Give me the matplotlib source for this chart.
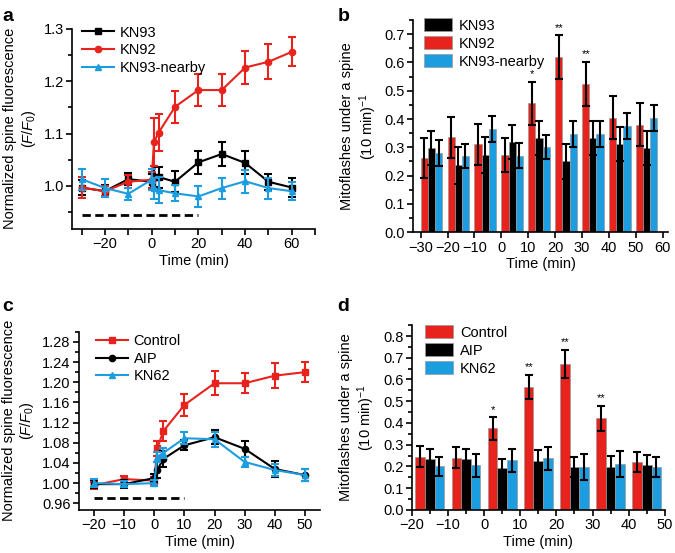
import numpy as np
import matplotlib
matplotlib.use("Agg")
import matplotlib.pyplot as plt
from matplotlib.ticker import MultipleLocator

FS = 10.5
plt.rcParams['font.family'] = ['Liberation Sans', 'DejaVu Sans']
plt.rcParams['font.size'] = FS
plt.rcParams['mathtext.fontset'] = 'custom'
plt.rcParams['mathtext.rm'] = 'Liberation Sans'
plt.rcParams['mathtext.it'] = 'Liberation Sans:italic'
plt.rcParams['axes.linewidth'] = 1.2
plt.rcParams['xtick.major.width'] = 1.2
plt.rcParams['ytick.major.width'] = 1.2
plt.rcParams['xtick.minor.width'] = 1.2
plt.rcParams['ytick.minor.width'] = 1.2
plt.rcParams['xtick.major.size'] = 4
plt.rcParams['ytick.major.size'] = 4
plt.rcParams['xtick.minor.size'] = 3
plt.rcParams['ytick.minor.size'] = 3

RED = '#e8231e'
BLUE = '#1c9de0'
BLACK = '#000000'

# panel a
t_a = [-30, -20, -10, 0, 1, 3, 10, 20, 30, 40, 50, 60]
kn93_a = [0.997, 0.99, 1.013, 1.008, 1.018, 1.017, 1.008, 1.045, 1.061, 1.044, 1.008, 0.997]
kn93_a_err = [0.015, 0.012, 0.012, 0.015, 0.02, 0.02, 0.02, 0.022, 0.023, 0.022, 0.015, 0.018]
kn92_a = [0.997, 0.99, 1.008, 1.012, 1.084, 1.102, 1.151, 1.183, 1.183, 1.226, 1.237, 1.256]
kn92_a_err = [0.02, 0.01, 0.012, 0.015, 0.045, 0.035, 0.03, 0.03, 0.03, 0.032, 0.033, 0.028]
near_a = [1.013, 0.996, 0.985, 1.012, 0.996, 0.992, 0.986, 0.98, 0.996, 1.009, 0.996, 0.99]
near_a_err = [0.02, 0.017, 0.012, 0.02, 0.02, 0.025, 0.015, 0.02, 0.02, 0.022, 0.02, 0.017]

# panel b
bins_b = [-30, -20, -10, 0, 10, 20, 30, 40, 50]
kn92_b = [0.262, 0.335, 0.31, 0.273, 0.455, 0.62, 0.524, 0.405, 0.38]
kn92_b_err = [0.07, 0.072, 0.072, 0.06, 0.077, 0.077, 0.078, 0.075, 0.077]
kn93_b = [0.298, 0.237, 0.273, 0.32, 0.333, 0.25, 0.333, 0.31, 0.297]
kn93_b_err = [0.06, 0.065, 0.063, 0.06, 0.06, 0.063, 0.06, 0.06, 0.06]
near_b = [0.28, 0.27, 0.365, 0.27, 0.3, 0.346, 0.346, 0.374, 0.402]
near_b_err = [0.045, 0.043, 0.046, 0.044, 0.043, 0.046, 0.046, 0.046, 0.046]
stars_b = ['', '', '', '', '*', '**', '**', '', '']

# panel c
t_c = [-20, -10, 0, 1, 3, 10, 20, 30, 40, 50]
control_c = [0.996, 1.008, 1.005, 1.069, 1.103, 1.155, 1.198, 1.198, 1.213, 1.22]
control_c_err = [0.007, 0.007, 0.007, 0.015, 0.02, 0.022, 0.024, 0.02, 0.025, 0.02]
aip_c = [0.998, 0.998, 1.01, 1.026, 1.048, 1.075, 1.091, 1.068, 1.028, 1.016]
aip_c_err = [0.008, 0.008, 0.008, 0.015, 0.016, 0.01, 0.014, 0.016, 0.016, 0.012]
kn62_c = [1.0, 0.998, 1.0, 1.052, 1.06, 1.089, 1.087, 1.042, 1.026, 1.016]
kn62_c_err = [0.008, 0.006, 0.006, 0.01, 0.01, 0.012, 0.015, 0.01, 0.012, 0.012]

# panel d
bins_d = [-20, -10, 0, 10, 20, 30, 40]
control_d = [0.245, 0.24, 0.375, 0.565, 0.672, 0.422, 0.218]
control_d_err = [0.05, 0.048, 0.052, 0.057, 0.065, 0.058, 0.046]
aip_d = [0.235, 0.233, 0.193, 0.225, 0.197, 0.197, 0.205]
aip_d_err = [0.045, 0.048, 0.042, 0.052, 0.046, 0.05, 0.046]
kn62_d = [0.2, 0.205, 0.228, 0.238, 0.197, 0.212, 0.198]
kn62_d_err = [0.045, 0.053, 0.052, 0.053, 0.058, 0.06, 0.046]
stars_d = ['', '', '*', '**', '**', '**', '']

fig = plt.figure(figsize=(6.75, 5.53), dpi=100)

ylab_f = "Normalized spine fluorescence\n($F$/$F_0$)"
ylab_m = "Mitoflashes under a spine\n(10 min)$^{-1}$"


def style(ax):
    ax.spines['top'].set_visible(False)
    ax.spines['right'].set_visible(False)
    ax.tick_params(labelsize=FS, pad=2)


def line_series(ax, t, y, err, color, marker, label):
    ax.errorbar(t, y, yerr=err, fmt='none', ecolor=color, elinewidth=1.5,
                capsize=3, capthick=1.5)
    ax.plot(t, y, color=color, marker=marker, markersize=4.5, lw=1.5, label=label)


def bar_series(ax, bins, vals, errs, offset, color, label):
    w = 8 / 3
    x = np.array(bins) + offset + w / 2
    ax.bar(x, vals, width=w, color=color, edgecolor='#999999', linewidth=0.5,
           label=label, zorder=2)
    ax.errorbar(x, vals, yerr=errs, fmt='none', ecolor='black', elinewidth=1.5,
                capsize=3, capthick=1.5, zorder=3)
    return x


def signed(vals):
    return [('\u2212' + str(-v) if v < 0 else str(v)) for v in vals]


# ---- a
ax = fig.add_axes([0.107, 0.586, 0.36, 0.362])
line_series(ax, t_a, kn93_a, kn93_a_err, BLACK, 's', 'KN93')
line_series(ax, t_a, kn92_a, kn92_a_err, RED, 'o', 'KN92')
line_series(ax, t_a, near_a, near_a_err, BLUE, '^', 'KN93-nearby')
ax.plot([-30, 20], [0.944, 0.944], color='black', lw=2, dashes=(3, 1.6))
ax.set_xlim(-34, 70)
ax.set_ylim(0.918, 1.3)
ax.set_xticks(range(-30, 71, 10))
ax.set_xticklabels(['' if v % 20 else s for v, s in zip(range(-30, 71, 10), signed(range(-30, 71, 10)))])
ax.set_yticks([1.0, 1.1, 1.2, 1.3])
ax.yaxis.set_minor_locator(MultipleLocator(0.05))
style(ax)
ax.set_xlabel('Time (min)', labelpad=2)
ax.set_ylabel(ylab_f, labelpad=4)
ax.legend(loc='upper left', bbox_to_anchor=(0.015, 1.045), frameon=False,
          borderaxespad=0, handlelength=2.2, handletextpad=0.4, labelspacing=0.25,
          fontsize=FS)

# ---- b
ax = fig.add_axes([0.612, 0.58, 0.378, 0.384])
xr = bar_series(ax, bins_b, kn92_b, kn92_b_err, 0, RED, 'KN92')
bar_series(ax, bins_b, kn93_b, kn93_b_err, 8 / 3, BLACK, 'KN93')
bar_series(ax, bins_b, near_b, near_b_err, 16 / 3, BLUE, 'KN93-nearby')
for xi, v, e, s in zip(xr, kn92_b, kn92_b_err, stars_b):
    if s:
        ax.text(xi, v + e + 0.008, s, ha='center', va='bottom', fontsize=8)
ax.set_xlim(-32.8, 62)
ax.set_ylim(0, 0.75)
ax.set_xticks(range(-30, 61, 10))
ax.set_xticklabels(signed(range(-30, 61, 10)))
ax.set_yticks(np.arange(0, 0.71, 0.1))
ax.yaxis.set_minor_locator(MultipleLocator(0.05))
style(ax)
ax.set_xlabel('Time (min)', labelpad=2)
ax.set_ylabel(ylab_m, labelpad=4)
h, l = ax.get_legend_handles_labels()
ax.legend([h[1], h[0], h[2]], [l[1], l[0], l[2]], loc='upper left',
          bbox_to_anchor=(0.02, 1.035), frameon=False, borderaxespad=0,
          handlelength=1.9, handleheight=0.95, handletextpad=0.5,
          labelspacing=0.25, fontsize=FS)

# ---- c
ax = fig.add_axes([0.117, 0.078, 0.357, 0.322])
line_series(ax, t_c, control_c, control_c_err, RED, 's', 'Control')
line_series(ax, t_c, aip_c, aip_c_err, BLACK, 'o', 'AIP')
line_series(ax, t_c, kn62_c, kn62_c_err, BLUE, '^', 'KN62')
ax.plot([-20, 10], [0.971, 0.971], color='black', lw=2, dashes=(3, 1.6))
ax.set_xlim(-25, 55)
ax.set_ylim(0.947, 1.30)
ax.set_xticks(range(-20, 51, 10))
ax.set_xticklabels(signed(range(-20, 51, 10)))
ax.set_yticks(np.arange(0.96, 1.281, 0.04))
ax.set_yticklabels(['%.2f' % v for v in np.arange(0.96, 1.281, 0.04)])
ax.yaxis.set_minor_locator(MultipleLocator(0.02))
style(ax)
ax.set_xlabel('Time (min)', labelpad=2)
ax.set_ylabel(ylab_f, labelpad=4)
ax.legend(loc='upper left', bbox_to_anchor=(0.045, 1.02), frameon=False,
          borderaxespad=0, handlelength=2.2, handletextpad=0.4, labelspacing=0.25,
          fontsize=FS)

# ---- d
ax = fig.add_axes([0.61, 0.078, 0.375, 0.334])
xr = bar_series(ax, bins_d, control_d, control_d_err, 1, RED, 'Control')
bar_series(ax, bins_d, aip_d, aip_d_err, 1 + 8 / 3, BLACK, 'AIP')
bar_series(ax, bins_d, kn62_d, kn62_d_err, 1 + 16 / 3, BLUE, 'KN62')
for xi, v, e, s in zip(xr, control_d, control_d_err, stars_d):
    if s:
        ax.text(xi, v + e + 0.01, s, ha='center', va='bottom', fontsize=8)
ax.set_xlim(-20, 50)
ax.set_ylim(0, 0.85)
ax.set_xticks(range(-20, 51, 10))
ax.set_xticklabels(signed(range(-20, 51, 10)))
ax.xaxis.set_minor_locator(MultipleLocator(5))
ax.set_yticks(np.arange(0, 0.81, 0.1))
ax.yaxis.set_minor_locator(MultipleLocator(0.05))
style(ax)
ax.set_xlabel('Time (min)', labelpad=2)
ax.set_ylabel(ylab_m, labelpad=4)
ax.legend(loc='upper left', bbox_to_anchor=(0.03, 1.03), frameon=False,
          borderaxespad=0, handlelength=1.9, handleheight=0.95, handletextpad=0.5,
          labelspacing=0.25, fontsize=FS)

# panel letters
for x, y, s in [(0.003, 0.985, 'a'), (0.5, 0.985, 'b'), (0.003, 0.462, 'c'), (0.5, 0.462, 'd')]:
    fig.text(x, y, s, fontsize=14, fontweight='bold', va='top', ha='left')

fig.savefig('out.png', dpi=100)
